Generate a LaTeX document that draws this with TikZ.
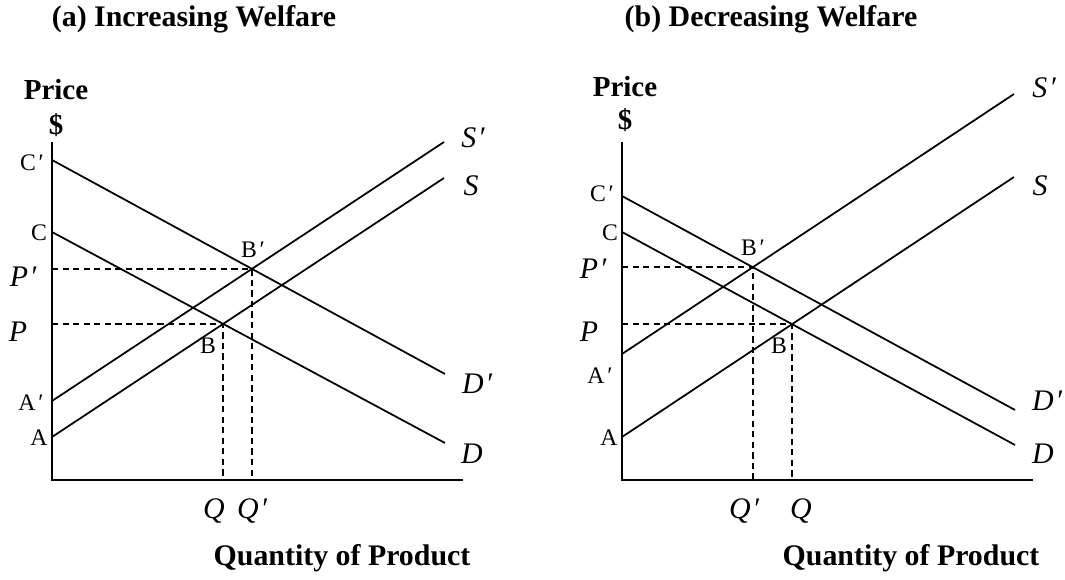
\documentclass[tikz,border=0pt]{standalone}
\usepackage{fontspec}
\setmainfont{Liberation Serif}
\usetikzlibrary{positioning}

\newcommand{\prm}{\hspace{0.12em}′}

\begin{document}
\begin{tikzpicture}[
    x=0.02cm, y=-0.02cm,
    axis/.style={line width=1.3pt, draw=black},
    curve/.style={line width=1pt, draw=black},
    guide/.style={line width=0.85pt, draw=black, dash pattern=on 3.6pt off 2.4pt},
    pointlabel/.style={font=\fontsize{13.5}{15}\selectfont, inner sep=0pt},
    curvelabel/.style={font=\fontsize{17}{19}\selectfont, inner sep=0pt},
    pricelabel/.style={font=\fontsize{16.5}{18}\selectfont\bfseries, inner sep=0pt},
    titlelabel/.style={font=\fontsize{17}{19}\selectfont\bfseries, inner sep=0pt}
]
\useasboundingbox (0,0) rectangle (1065,580);

% Panel (a): axes
\coordinate (aTop) at (52,142);
\coordinate (aO) at (52,480);
\coordinate (aRight) at (463,480);
\draw[axis] (aTop) -- (aO) -- (aRight);

% Panel (a): demand and supply end points
\coordinate (aCp) at (52,160);
\coordinate (aC) at (52,232);
\coordinate (aAp) at (52,401);
\coordinate (aA) at (52,437);
\coordinate (aDpEnd) at (445,374);
\coordinate (aDEnd) at (445,443);
\coordinate (aSpEnd) at (444,142);
\coordinate (aSEnd) at (444,178);
\draw[curve] (aCp) -- (aDpEnd);
\draw[curve] (aC) -- (aDEnd);
\draw[curve] (aAp) -- (aSpEnd);
\draw[curve] (aA) -- (aSEnd);

% Panel (a): equilibria and dashed guides
\coordinate (aBp) at (252,269);
\coordinate (aB) at (223,324);
\coordinate (aPp) at (52,269);
\coordinate (aP) at (52,324);
\coordinate (aQp) at (252,480);
\coordinate (aQ) at (223,480);
\draw[guide] (aPp) -- (aBp) -- (aQp);
\draw[guide] (aP) -- (aB) -- (aQ);

% Panel (a): labels
\node[titlelabel] (aTitle) at (194,19) {(a) Increasing Welfare};
\node[pricelabel] (aPrice) at (56,90) {Price};
\node[pricelabel] (aDollar) at (56,125) {\$};
\node[pointlabel] (aCpLab) at (32,163) {C\prm};
\node[pointlabel] (aCLab) at (39,233) {C};
\node[pointlabel] (aApLab) at (31,403) {A\prm};
\node[pointlabel] (aALab) at (39,438) {A};
\node[pointlabel] (aBpLab) at (253,250) {B\prm};
\node[pointlabel] (aBLab) at (208,346) {B};
\node[curvelabel] (aPpLab) at (24,277) {\textit{P}\prm};
\node[curvelabel] (aPLab) at (18,332) {\textit{P}};
\node[curvelabel] (aSpLab) at (474,138) {\textit{S}\prm};
\node[curvelabel] (aSLab) at (471,186) {\textit{S}};
\node[curvelabel] (aDpLab) at (478,384) {\textit{D}\prm};
\node[curvelabel] (aDLab) at (472,454) {\textit{D}};
\node[curvelabel] (aQLab) at (214,511) {\textit{Q}};
\node[curvelabel] (aQpLab) at (253,511) {\textit{Q}\prm};
\node[titlelabel] (aXLab) at (342,558) {Quantity of Product};

% Panel (b): axes
\coordinate (bTop) at (622,142);
\coordinate (bO) at (622,480);
\coordinate (bRight) at (1033,480);
\draw[axis] (bTop) -- (bO) -- (bRight);

% Panel (b): demand and supply end points
\coordinate (bCp) at (622,196);
\coordinate (bC) at (622,232);
\coordinate (bAp) at (622,354);
\coordinate (bA) at (622,437);
\coordinate (bDpEnd) at (1015,410);
\coordinate (bDEnd) at (1015,445);
\coordinate (bSpEnd) at (1014,94);
\coordinate (bSEnd) at (1014,177);
\draw[curve] (bCp) -- (bDpEnd);
\draw[curve] (bC) -- (bDEnd);
\draw[curve] (bAp) -- (bSpEnd);
\draw[curve] (bA) -- (bSEnd);

% Panel (b): equilibria and dashed guides
\coordinate (bBp) at (753,267);
\coordinate (bB) at (792,324);
\coordinate (bPp) at (622,267);
\coordinate (bP) at (622,324);
\coordinate (bQp) at (753,480);
\coordinate (bQ) at (792,480);
\draw[guide] (bPp) -- (bBp) -- (bQp);
\draw[guide] (bP) -- (bB) -- (bQ);

% Panel (b): labels
\node[titlelabel] (bTitle) at (771,19) {(b) Decreasing Welfare};
\node[pricelabel] (bPrice) at (625,87) {Price};
\node[pricelabel] (bDollar) at (625,120) {\$};
\node[pointlabel] (bCpLab) at (602,194) {C\prm};
\node[pointlabel] (bCLab) at (610,233) {C};
\node[pointlabel] (bApLab) at (600,376) {A\prm};
\node[pointlabel] (bALab) at (609,438) {A};
\node[pointlabel] (bBpLab) at (753,248) {B\prm};
\node[pointlabel] (bBLab) at (779,346) {B};
\node[curvelabel] (bPpLab) at (594,269) {\textit{P}\prm};
\node[curvelabel] (bPLab) at (589,332) {\textit{P}};
\node[curvelabel] (bSpLab) at (1045,88) {\textit{S}\prm};
\node[curvelabel] (bSLab) at (1040,186) {\textit{S}};
\node[curvelabel] (bDpLab) at (1048,401) {\textit{D}\prm};
\node[curvelabel] (bDLab) at (1043,454) {\textit{D}};
\node[curvelabel] (bQpLab) at (745,511) {\textit{Q}\prm};
\node[curvelabel] (bQLab) at (801,511) {\textit{Q}};
\node[titlelabel] (bXLab) at (911,558) {Quantity of Product};

\end{tikzpicture}
\end{document}
